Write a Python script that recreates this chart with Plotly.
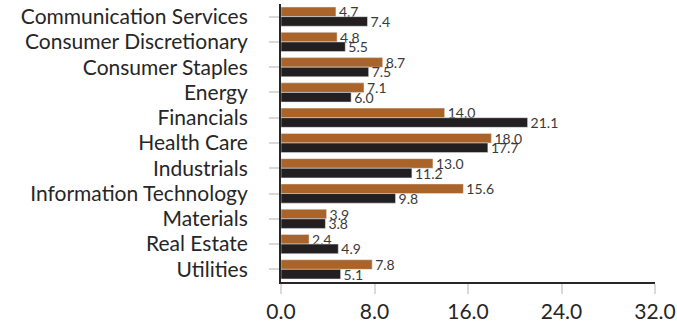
import plotly.graph_objects as go

categories = ["Communication Services", "Consumer Discretionary", "Consumer Staples",
              "Energy", "Financials", "Health Care", "Industrials",
              "Information Technology", "Materials", "Real Estate", "Utilities"]
series_a = [4.7, 4.8, 8.7, 7.1, 14.0, 18.0, 13.0, 15.6, 3.9, 2.4, 7.8]
series_b = [7.4, 5.5, 7.5, 6.0, 21.1, 17.7, 11.2, 9.8, 3.8, 4.9, 5.1]
x_ticks = [0, 8, 16, 24, 32]

FONT = "Lato"

fig = go.Figure()
for vals, col in ((series_a, "#AA6329"), (series_b, "#231F20")):
    fig.add_trace(go.Bar(y=categories, x=vals, orientation="h", marker_color=col,
                         texttemplate="%{x:.1f}", textposition="outside",
                         textfont=dict(family=FONT, size=14, color="#3A3A3A"),
                         constraintext="none", cliponaxis=False, showlegend=False))

fig.update_layout(
    width=677, height=327,
    margin=dict(l=281, r=22, t=4, b=45, autoexpand=False),
    barmode="group", bargap=0.24, bargroupgap=0,
    plot_bgcolor="white", paper_bgcolor="white",
    font=dict(family=FONT, color="#262626"),
)
fig.update_xaxes(range=[0, 32], tickvals=x_ticks, tickformat=".1f",
                 showgrid=False, zeroline=False,
                 showline=True, linecolor="#262626", linewidth=2,
                 ticks="outside", ticklen=10, tickcolor="#D9D9D9", tickwidth=2,
                 tickfont=dict(family=FONT, size=21, color="#262626"))
fig.update_yaxes(autorange="reversed", showgrid=False, zeroline=False,
                 tickmode="array", tickvals=categories, ticktext=categories,
                 showline=True, linecolor="#262626", linewidth=2,
                 ticks="outside", ticklen=10, tickcolor="#D9D9D9", tickwidth=2,
                 ticklabelstandoff=17,
                 tickfont=dict(family=FONT, size=21, color="#262626"))

fig.write_html("out.html", config={"displayModeBar": False},
               post_script="document.body.style.margin='0';document.body.style.overflow='hidden';")
